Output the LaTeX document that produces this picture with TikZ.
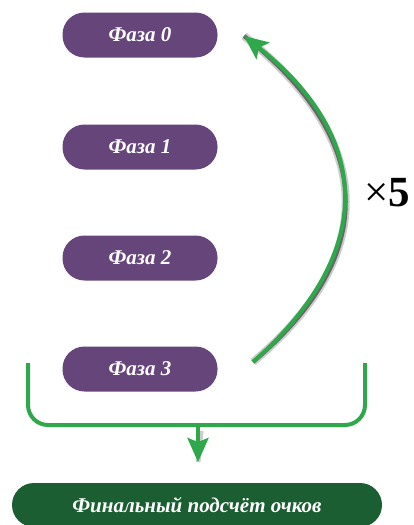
\documentclass[tikz,border=0pt]{standalone}
\usepackage{fontspec}
\setmainfont{Liberation Serif}
\usetikzlibrary{arrows.meta}
\definecolor{phasepurple}{HTML}{66457A}
\definecolor{finalgreen}{HTML}{1A5E32}
\definecolor{linegreen}{HTML}{2FA84B}
\tikzset{
  phasebox/.style={fill=phasepurple, text=white, rounded corners=22pt, minimum width=155pt, minimum height=45pt, inner sep=0pt, font=\bfseries\itshape\fontsize{21}{24}\selectfont},
  finalbox/.style={fill=finalgreen, text=white, rounded corners=22pt, minimum width=370pt, minimum height=44pt, inner sep=0pt, font=\bfseries\itshape\fontsize{21}{24}\selectfont},
  greenline/.style={draw=linegreen, line width=4pt},
  shadowline/.style={draw=black, opacity=0.2, line width=8pt},
  shadowcore/.style={draw=black, opacity=0.5, line width=4pt},
}
\begin{document}
\begin{tikzpicture}[x=1pt,y=-1pt]
\useasboundingbox (0,0) rectangle (414,525);
\node[phasebox] (p0) at (140,35) {Фаза 0};
\node[phasebox] (p1) at (140,147) {Фаза 1};
\node[phasebox] (p2) at (140,258) {Фаза 2};
\node[phasebox] (p3) at (140,369) {Фаза 3};
\node[finalbox] (fin) at (197,505) {Финальный подсчёт очков};
% curved arrow
\coordinate (cs) at (253,362);
\coordinate (ce) at (244,36);
\begin{scope}[shift={(3,3)}]
\draw[shadowline] (cs) .. controls (380,250) and (370,135) .. (ce);
\draw[shadowcore] (cs) .. controls (380,250) and (370,135) .. (ce);
\end{scope}
\draw[greenline, -{Stealth[length=24pt,width=21pt,inset=5pt]}] (cs) .. controls (380,250) and (370,135) .. (ce);
\node[font=\fontsize{43}{46}\selectfont, inner sep=0pt] (times) at (387,193) {×\textbf{5}};
% bracket
\coordinate (bl) at (28,363);
\coordinate (br) at (365,363);
\draw[greenline, rounded corners=20pt] (bl) -- (28,425) -- (365,425) -- (br);
% down arrow
\coordinate (ds) at (198,425);
\coordinate (de) at (198,462);
\begin{scope}[shift={(3,3)}]
\draw[shadowline, line width=5pt] (198,428) -- (de);
\end{scope}
\draw[greenline, -{Stealth[length=24pt,width=21pt,inset=4pt]}] (ds) -- (de);
\end{tikzpicture}
\end{document}
